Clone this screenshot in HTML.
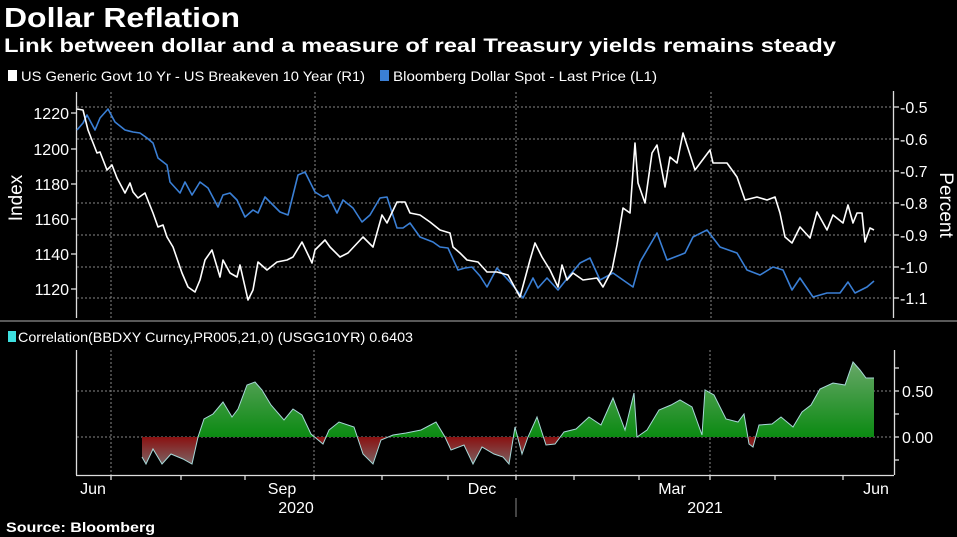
<!DOCTYPE html>
<html><head><style>
html,body{margin:0;padding:0;background:#000;width:957px;height:537px;overflow:hidden}
svg{display:block}
text{font-family:"Liberation Sans",sans-serif;fill:#fff}
</style></head><body>
<svg width="957" height="537" viewBox="0 0 957 537" xmlns="http://www.w3.org/2000/svg">
<defs>
<linearGradient id="gg" x1="0" y1="360" x2="0" y2="437" gradientUnits="userSpaceOnUse">
<stop offset="0" stop-color="#6aa86a"/><stop offset="1" stop-color="#0b8a12"/></linearGradient>
<linearGradient id="rg" x1="0" y1="437" x2="0" y2="466" gradientUnits="userSpaceOnUse">
<stop offset="0" stop-color="#8a1010"/><stop offset="1" stop-color="#7a6a6a"/></linearGradient>
<clipPath id="above"><rect x="76" y="340" width="820" height="97"/></clipPath>
<clipPath id="below"><rect x="76" y="437" width="820" height="40"/></clipPath>
</defs>
<text x="4" y="27" font-size="28" font-weight="bold" textLength="236" lengthAdjust="spacingAndGlyphs">Dollar Reflation</text>
<text x="4" y="52" font-size="19" font-weight="bold" textLength="832" lengthAdjust="spacingAndGlyphs">Link between dollar and a measure of real Treasury yields remains steady</text>
<rect x="8" y="70" width="9" height="11" fill="#fff"/>
<text x="21" y="81" font-size="14" textLength="344" lengthAdjust="spacingAndGlyphs">US Generic Govt 10 Yr - US Breakeven 10 Year (R1)</text>
<rect x="380" y="70" width="9" height="11" fill="#3a7fd5"/>
<text x="393" y="81" font-size="14" textLength="264" lengthAdjust="spacingAndGlyphs">Bloomberg Dollar Spot - Last Price (L1)</text>
<g stroke="#888" stroke-width="1" stroke-dasharray="2,2">
<line x1="77" x2="891" y1="107" y2="107"/><line x1="77" x2="891" y1="139" y2="139"/>
<line x1="77" x2="891" y1="171" y2="171"/><line x1="77" x2="891" y1="203" y2="203"/>
<line x1="77" x2="891" y1="235" y2="235"/><line x1="77" x2="891" y1="267" y2="267"/>
<line x1="77" x2="891" y1="298" y2="298"/>
<line x1="111" x2="111" y1="92" y2="318"/><line x1="315" x2="315" y1="92" y2="318"/>
<line x1="516" x2="516" y1="92" y2="318"/><line x1="711" x2="711" y1="92" y2="318"/>
</g>
<g stroke="#ddd" stroke-width="1.3">
<line x1="76.5" x2="76.5" y1="92" y2="318"/><line x1="893.5" x2="893.5" y1="91" y2="318"/>
<line x1="71" x2="76" y1="113" y2="113"/><line x1="71" x2="76" y1="149" y2="149"/>
<line x1="71" x2="76" y1="184" y2="184"/><line x1="71" x2="76" y1="219" y2="219"/>
<line x1="71" x2="76" y1="254" y2="254"/><line x1="71" x2="76" y1="289" y2="289"/>
<line x1="894" x2="899" y1="107" y2="107"/><line x1="894" x2="899" y1="139" y2="139"/>
<line x1="894" x2="899" y1="171" y2="171"/><line x1="894" x2="899" y1="203" y2="203"/>
<line x1="894" x2="899" y1="235" y2="235"/><line x1="894" x2="899" y1="267" y2="267"/>
<line x1="894" x2="899" y1="298" y2="298"/>
</g>
<g font-size="16" text-anchor="end">
<text x="69" y="119">1220</text><text x="69" y="155">1200</text><text x="69" y="190">1180</text>
<text x="69" y="225">1160</text><text x="69" y="260">1140</text><text x="69" y="295">1120</text>
</g>
<g font-size="16">
<text x="900" y="113">-0.5</text><text x="900" y="145">-0.6</text><text x="900" y="177">-0.7</text>
<text x="900" y="209">-0.8</text><text x="900" y="241">-0.9</text><text x="900" y="273">-1.0</text>
<text x="900" y="304">-1.1</text>
</g>
<text transform="translate(22,198) rotate(-90)" font-size="19" text-anchor="middle">Index</text>
<text transform="translate(940,205) rotate(90)" font-size="19" text-anchor="middle">Percent</text>
<polyline fill="none" stroke="#3a7fd5" stroke-width="1.6" stroke-linejoin="round" points="77,130 83,123 87,115 95,130 100,118 108,109 115,122 125,130 133,132 140,133 147,138 153,143 158,158 167,165 170,182 180,193 185,182 192,195 200,182 208,188 218,207 223,195 230,193 237,200 245,217 253,210 258,213 265,197 270,202 280,212 288,215 298,175 305,172 315,192 323,197 328,195 337,213 343,200 353,208 362,222 370,215 380,198 387,197 397,228 403,228 410,223 420,237 433,242 440,247 448,248 458,270 465,268 472,267 480,276 487,287 497,268 510,282 523,298 533,278 538,288 547,278 558,290 570,275 580,263 590,258 600,280 613,273 633,287 640,262 657,233 667,260 680,255 685,253 693,237 707,230 720,247 737,253 747,270 760,275 773,267 783,270 792,290 800,278 813,297 827,293 840,293 848,282 855,293 867,287 874,281"/>
<polyline fill="none" stroke="#fff" stroke-width="1.6" stroke-linejoin="round" points="77,109 83,110 88,130 97,153 100,152 107,170 112,165 117,178 125,193 130,183 133,192 138,198 145,193 153,213 158,227 163,225 167,237 173,247 182,273 188,287 195,292 200,280 205,260 212,250 220,277 223,260 230,273 237,277 240,265 248,300 253,290 258,262 267,270 277,262 287,260 293,257 302,242 312,263 315,250 325,240 330,247 340,257 348,253 363,237 373,247 382,215 387,223 397,202 405,202 410,213 420,215 430,222 440,230 450,233 453,247 460,253 467,260 478,262 487,272 497,272 508,275 520,297 530,260 535,243 542,257 550,270 558,287 562,265 567,280 573,273 583,280 597,278 603,287 612,270 617,245 623,208 630,213 635,143 638,183 645,203 652,153 657,145 665,187 670,157 677,163 683,133 695,170 710,150 713,163 727,163 737,177 745,200 757,197 767,200 775,197 780,213 785,237 792,243 800,227 810,238 817,212 827,230 833,215 843,223 848,205 853,223 857,213 862,213 865,242 870,228 874,230"/>
<line x1="0" x2="957" y1="321" y2="321" stroke="#777" stroke-width="1.5"/>
<rect x="8" y="331" width="8" height="11" fill="#3ee0e0"/>
<text x="18" y="342" font-size="14" textLength="395" lengthAdjust="spacingAndGlyphs">Correlation(BBDXY Curncy,PR005,21,0) (USGG10YR) 0.6403</text>
<g stroke="#888" stroke-width="1" stroke-dasharray="2,2">
<line x1="77" x2="893" y1="391" y2="391"/><line x1="77" x2="893" y1="437" y2="437"/>
<line x1="111" x2="111" y1="350" y2="475"/><line x1="314" x2="314" y1="350" y2="475"/>
<line x1="516" x2="516" y1="350" y2="475"/><line x1="710" x2="710" y1="350" y2="475"/>
</g>
<polygon clip-path="url(#above)" fill="url(#gg)" points="142,437 142,457 146,464 153,449 162,464 171,454 183,459 192,464 198,437 204,419 213,414 223,402 232,417 238,409 247,385 255,382 262,390 271,405 284,420 293,409 302,415 311,434 317,439 323,444 329,430 339,422 354,427 363,454 373,464 381,440 393,435 406,433 421,430 436,422 445,437 451,450 464,445 473,464 482,447 494,454 503,457 509,464 515,427 522,454 528,437 537,417 546,445 555,444 564,432 576,429 589,417 601,425 613,398 625,430 634,393 637,437 647,430 659,410 671,405 680,400 692,407 702,435 705,390 714,395 726,419 738,422 744,414 749,444 753,447 759,425 772,424 781,417 793,427 802,412 811,405 820,389 833,383 845,385 853,362 860,370 866,378 874,378 874,437"/>
<polygon clip-path="url(#below)" fill="url(#rg)" points="142,437 142,457 146,464 153,449 162,464 171,454 183,459 192,464 198,437 204,419 213,414 223,402 232,417 238,409 247,385 255,382 262,390 271,405 284,420 293,409 302,415 311,434 317,439 323,444 329,430 339,422 354,427 363,454 373,464 381,440 393,435 406,433 421,430 436,422 445,437 451,450 464,445 473,464 482,447 494,454 503,457 509,464 515,427 522,454 528,437 537,417 546,445 555,444 564,432 576,429 589,417 601,425 613,398 625,430 634,393 637,437 647,430 659,410 671,405 680,400 692,407 702,435 705,390 714,395 726,419 738,422 744,414 749,444 753,447 759,425 772,424 781,417 793,427 802,412 811,405 820,389 833,383 845,385 853,362 860,370 866,378 874,378 874,437"/>
<polyline fill="none" stroke="#a8d8d8" stroke-width="1" points="142,457 146,464 153,449 162,464 171,454 183,459 192,464 198,437 204,419 213,414 223,402 232,417 238,409 247,385 255,382 262,390 271,405 284,420 293,409 302,415 311,434 317,439 323,444 329,430 339,422 354,427 363,454 373,464 381,440 393,435 406,433 421,430 436,422 445,437 451,450 464,445 473,464 482,447 494,454 503,457 509,464 515,427 522,454 528,437 537,417 546,445 555,444 564,432 576,429 589,417 601,425 613,398 625,430 634,393 637,437 647,430 659,410 671,405 680,400 692,407 702,435 705,390 714,395 726,419 738,422 744,414 749,444 753,447 759,425 772,424 781,417 793,427 802,412 811,405 820,389 833,383 845,385 853,362 860,370 866,378 874,378"/>
<g stroke="#ddd" stroke-width="1.3">
<line x1="76.5" x2="76.5" y1="350" y2="475"/><line x1="76" x2="894" y1="475.5" y2="475.5"/>
<line x1="894.5" x2="894.5" y1="350" y2="475"/>
<line x1="894" x2="899" y1="368" y2="368"/><line x1="894" x2="899" y1="391" y2="391"/>
<line x1="894" x2="899" y1="414" y2="414"/><line x1="894" x2="899" y1="437" y2="437"/>
<line x1="894" x2="899" y1="460" y2="460"/>
<line x1="111" x2="111" y1="475" y2="480"/><line x1="181" x2="181" y1="475" y2="480"/>
<line x1="245" x2="245" y1="475" y2="480"/><line x1="314" x2="314" y1="475" y2="480"/>
<line x1="382" x2="382" y1="475" y2="480"/><line x1="448" x2="448" y1="475" y2="480"/>
<line x1="516" x2="516" y1="475" y2="480"/><line x1="574" x2="574" y1="475" y2="480"/>
<line x1="639" x2="639" y1="475" y2="480"/><line x1="710" x2="710" y1="475" y2="480"/>
<line x1="775" x2="775" y1="475" y2="480"/><line x1="843" x2="843" y1="475" y2="480"/>
</g>
<line x1="516" x2="516" y1="498" y2="517" stroke="#888"/>
<g font-size="16">
<text x="902" y="397">0.50</text><text x="902" y="443">0.00</text>
</g>
<g font-size="16" text-anchor="middle">
<text x="93" y="494">Jun</text><text x="282" y="494">Sep</text><text x="482" y="494">Dec</text>
<text x="672" y="494">Mar</text><text x="876" y="494">Jun</text>
<text x="296" y="513">2020</text><text x="705" y="513">2021</text>
</g>
<text x="6" y="532" font-size="14" font-weight="bold" textLength="149" lengthAdjust="spacingAndGlyphs">Source: Bloomberg</text>
</svg>
</body></html>
